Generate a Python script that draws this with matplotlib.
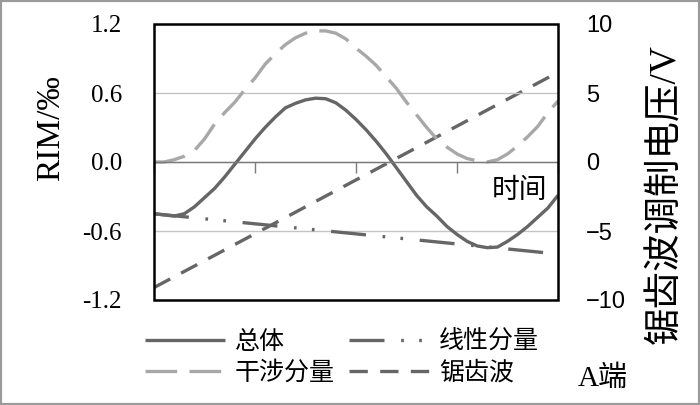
import matplotlib.pyplot as plt
from matplotlib.patches import Rectangle

# 数据
t = [0.0, 0.1, 0.2, 0.3, 0.4, 0.5, 0.6, 0.7, 0.8, 0.9,
     1.0, 1.1, 1.2, 1.3, 1.4, 1.5, 1.6, 1.7, 1.8, 1.9,
     2.0, 2.1, 2.2, 2.3, 2.4, 2.5, 2.6, 2.7, 2.8, 2.9,
     3.0, 3.1, 3.2, 3.3, 3.4, 3.5, 3.6, 3.7, 3.8, 3.9, 4.0]

zongti = [-0.45, -0.46, -0.47, -0.45, -0.39, -0.31, -0.23, -0.13, -0.02, 0.09,
          0.20, 0.30, 0.39, 0.47, 0.51, 0.54, 0.555, 0.55, 0.515, 0.45,
          0.37, 0.28, 0.18, 0.07, -0.05, -0.17, -0.29, -0.39, -0.47, -0.56,
          -0.63, -0.69, -0.73, -0.745, -0.74, -0.69, -0.63, -0.56, -0.48, -0.40, -0.29]

ganshe = [0.0, 0.0, 0.02, 0.05, 0.10, 0.20, 0.33, 0.43, 0.52, 0.63,
          0.73, 0.85, 0.94, 1.02, 1.08, 1.12, 1.14, 1.14, 1.12, 1.07,
          0.99, 0.92, 0.84, 0.74, 0.64, 0.52, 0.41, 0.30, 0.20, 0.13,
          0.07, 0.03, 0.01, 0.0, 0.02, 0.07, 0.14, 0.22, 0.31, 0.43, 0.53]

t_lin = [0.0, 4.0]
xianxing = [-0.45, -0.80]

t_saw = [0.0, 4.0]
juchi = [-9.1, 6.5]  # V, 右轴

left_ticks = [-1.2, -0.6, 0.0, 0.6, 1.2]
left_labels = ['-1.2', '-0.6', '0.0', '0.6', '1.2']
right_ticks = [-10, -5, 0, 5, 10]
right_labels = ['\u221210', '\u22125', '0', '5', '10']
x_ticks = [0, 1, 2, 3, 4]

cjk = ['Noto Sans CJK SC', 'DejaVu Sans']
serif_cjk = ['Liberation Serif', 'Noto Sans CJK SC', 'DejaVu Serif']

dark = '#666666'
light = '#a8a8a8'
lw = 2.4

fig = plt.figure(figsize=(7, 4.05), dpi=100)
ax = fig.add_axes([154 / 700, 1 - 300 / 405, 404 / 700, 276 / 405])
ax2 = ax.twinx()
ax.set_zorder(ax2.get_zorder() + 1)
ax.patch.set_visible(False)

l1, = ax.plot(t, zongti, color=dark, lw=lw, solid_capstyle='butt', label='总体')
l2, = ax.plot(t, ganshe, color=light, lw=lw, dashes=(9.5, 3.7), dash_capstyle='butt', label='干涉分量')
l3, = ax.plot(t_lin, xianxing, color=dark, lw=lw, dashes=(10.5, 5, 0.8, 4.6, 0.8, 5),
              dash_capstyle='butt', label='线性分量')
l4, = ax2.plot(t_saw, juchi, color=dark, lw=lw, dashes=(5.5, 3.7), dash_capstyle='butt', label='锯齿波')

ax.set_xlim(0, 4)
ax.set_ylim(-1.2, 1.2)
ax2.set_ylim(-10, 10)

# 网格与零线坐标轴
ax.set_yticks(left_ticks, labels=left_labels)
ax.yaxis.grid(True, color='#c4c4c4', lw=1.0)
ax.set_axisbelow(True)
ax.spines['bottom'].set_position(('data', 0))
ax.spines['bottom'].set_color('#7a7a7a')
ax.spines['bottom'].set_linewidth(1.0)
for s in ['top', 'left', 'right']:
    ax.spines[s].set_visible(False)
for s in ax2.spines.values():
    s.set_visible(False)
ax.set_xticks(x_ticks, labels=[''] * len(x_ticks))
ax.tick_params(axis='x', direction='out', length=8, width=1.0, color='#7a7a7a')
ax.tick_params(axis='y', length=0, pad=23, labelsize=18)
for lab in ax.get_yticklabels():
    lab.set_fontfamily(['Liberation Serif', 'DejaVu Serif'])

ax2.set_yticks(right_ticks, labels=right_labels)
ax2.tick_params(axis='y', length=0, pad=20, labelsize=17)
for lab in ax2.get_yticklabels():
    lab.set_fontfamily(['Liberation Sans', 'DejaVu Sans'])

# 黑色绘图区边框
ax.add_patch(Rectangle((0, 0), 1, 1, transform=ax.transAxes, fill=False,
                       ec='black', lw=1.8, clip_on=False, zorder=5))

fig.text(51 / 700, 1 - 128 / 405, 'RIM/‰', rotation=90, ha='center', va='center',
         fontsize=24, family=['Liberation Serif', 'DejaVu Serif'])
fig.text(666 / 700, 1 - 194 / 405, '锯齿波调制电压/V', rotation=90, ha='center', va='center',
         fontsize=27, family=serif_cjk)
fig.text(519 / 700, 1 - 190 / 405, '时间', ha='center', va='center', fontsize=20, family=cjk)
fig.text(603 / 700, 1 - 379 / 405, 'A端', ha='center', va='center', fontsize=21, family=serif_cjk)

leg = fig.legend([l1, l2, l3, l4], ['总体', '干涉分量', '线性分量', '锯齿波'], ncol=2,
                 loc='upper left', bbox_to_anchor=(145 / 700, 1 - 329 / 405), frameon=False,
                 prop={'family': cjk, 'size': 18}, handlelength=3.2, handletextpad=0.4,
                 columnspacing=0.55, labelspacing=0.2, borderpad=0, borderaxespad=0)

# 外框
fig.add_artist(Rectangle((0, 0), 1, 1, transform=fig.transFigure, fill=False,
                         ec='#9a9a9a', lw=3))

fig.savefig('out.png', dpi=100)
